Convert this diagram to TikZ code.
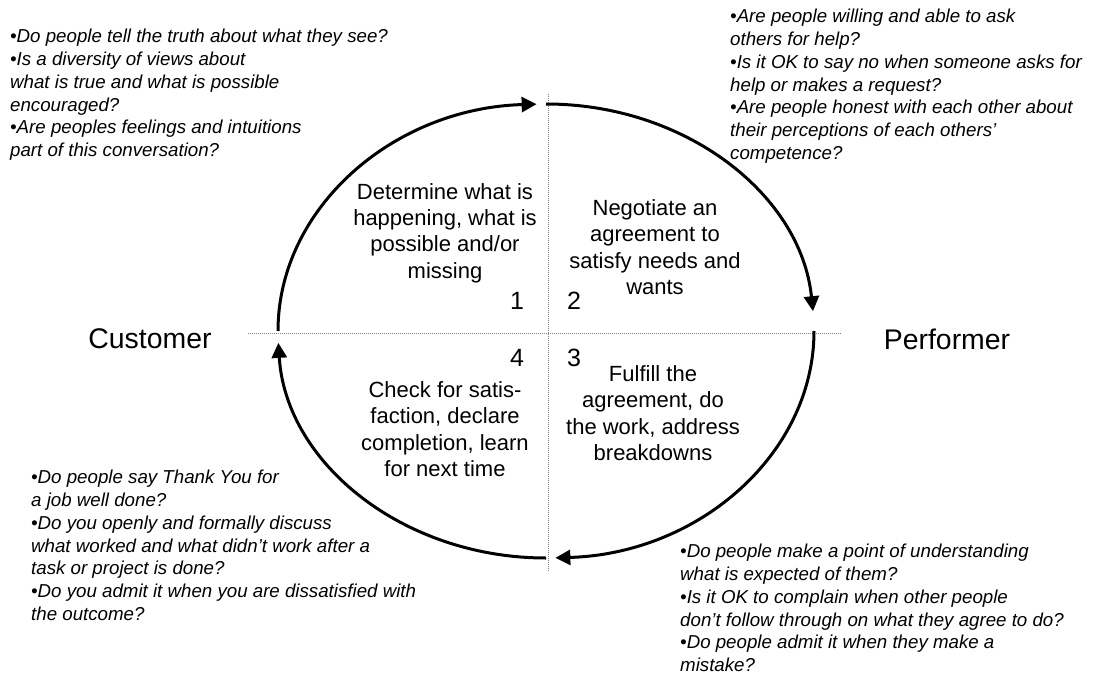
\documentclass[tikz,border=0pt]{standalone}
\usepackage{fontspec}
\setmainfont{Liberation Sans}
\usetikzlibrary{arrows.meta}

\begin{document}
\begin{tikzpicture}[x=1pt,y=-1pt,
    cycle/.style={line width=3pt,-{Triangle[length=15pt,width=15pt]}},
    axis/.style={gray,line width=0.9pt,dash pattern=on 1pt off 1pt},
    phase/.style={align=center,font=\fontsize{22}{26.3}\selectfont,inner sep=0pt},
    num/.style={font=\fontsize{25}{30}\selectfont,inner sep=0pt},
    role/.style={font=\fontsize{28.4}{34}\selectfont,inner sep=0pt},
    ask/.style={align=left,font=\itshape\fontsize{18.7}{22.8}\selectfont,inner sep=0pt,anchor=north west}]
  \useasboundingbox (0,0) rectangle (1098,674);

  % Quadrant axes
  \draw[axis] (548,94) -- (548,572);
  \draw[axis] (248,333) -- (842,333);

  % Points where the loop meets the axes
  \coordinate (west) at (278,331);
  \coordinate (north) at (546,104);
  \coordinate (east) at (814,331);
  \coordinate (south) at (546,558);

  % The four arcs of the loop
  \draw[cycle] (west) arc[start angle=180,end angle=268,x radius=268,y radius=227];
  \draw[cycle] (north) arc[start angle=270,end angle=355,x radius=268,y radius=227];
  \draw[cycle] (east) arc[start angle=0,end angle=88,x radius=268,y radius=227];
  \draw[cycle] (south) arc[start angle=90,end angle=177,x radius=268,y radius=227];

  % Roles
  \node[role] (customer) at (150,339) {Customer};
  \node[role] (performer) at (947,339) {Performer};

  % Phases
  \node[phase] (determine) at (445,233) {Determine what is\\happening, what is\\possible and/or\\missing};
  \node[phase] (negotiate) at (655,247) {Negotiate an\\agreement to\\satisfy needs and\\wants};
  \node[phase] (fulfill) at (653,413) {Fulfill the\\agreement, do\\the work, address\\breakdowns};
  \node[phase] (check) at (445,429) {Check for satis-\\faction, declare\\completion, learn\\for next time};

  \node[num] (one) at (517,301) {1};
  \node[num] (two) at (574,301) {2};
  \node[num] (three) at (574,358) {3};
  \node[num] (four) at (517,358) {4};

  % Questions for each phase
  \node[ask] (q1) at (10,29) {\textbullet Do people tell the truth about what they see?\\
    \textbullet Is a diversity of views about\\
    what is true and what is possible\\
    encouraged?\\
    \textbullet Are peoples feelings and intuitions\\
    part of this conversation?};
  \node[ask] (q2) at (730,9) {\textbullet Are people willing and able to ask\\
    others for help?\\
    \textbullet Is it OK to say no when someone asks for\\
    help or makes a request?\\
    \textbullet Are people honest with each other about\\
    their perceptions of each others’\\
    competence?};
  \node[ask] (q3) at (680,544) {\textbullet Do people make a point of understanding\\
    what is expected of them?\\
    \textbullet Is it OK to complain when other people\\
    don’t follow through on what they agree to do?\\
    \textbullet Do people admit it when they make a\\
    mistake?};
  \node[ask] (q4) at (31,470) {\textbullet Do people say Thank You for\\
    a job well done?\\
    \textbullet Do you openly and formally discuss\\
    what worked and what didn’t work after a\\
    task or project is done?\\
    \textbullet Do you admit it when you are dissatisfied with\\
    the outcome?};
\end{tikzpicture}
\end{document}
